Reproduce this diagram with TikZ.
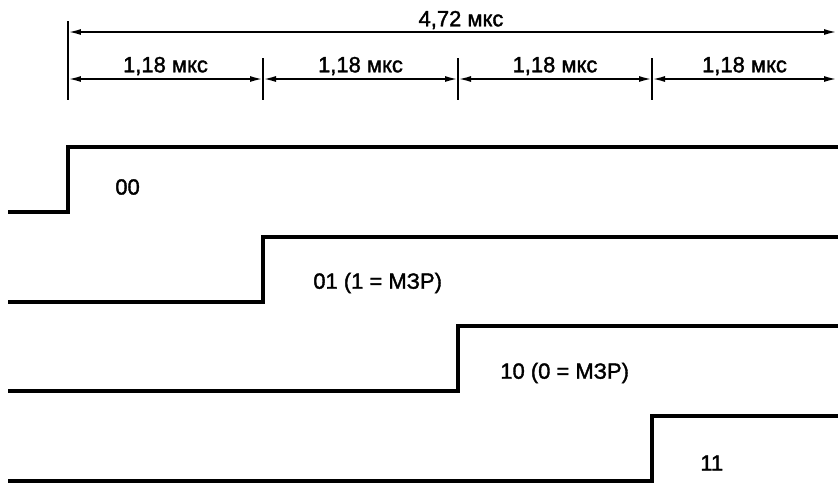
\documentclass[tikz,border=0pt]{standalone}
\usepackage{fontspec}
\setmainfont{Liberation Sans}[FakeBold=1.6]
\usepackage{tikz}
\usetikzlibrary{arrows.meta,positioning,calc}

\tikzset{
  dimline/.style={line width=1.1pt, {Latex[length=0.26cm,width=0.12cm]}-{Latex[length=0.26cm,width=0.12cm]}},
  tickline/.style={line width=1.1pt},
  wave/.style={line width=2.3pt, line join=miter},
  lbl/.style={inner sep=0pt, font=\fontsize{12.5}{14}\selectfont}
}

\begin{document}
\begin{tikzpicture}[x=0.02cm, y=-0.02cm]
    \useasboundingbox (0,0) rectangle (838,484);

    % time marks
    \draw[tickline] (68,21) -- (68,100);
    \foreach \x in {263, 458, 652} {
      \draw[tickline] (\x,58) -- (\x,100);
    }

    % total length
    \coordinate (a0) at (68,32);
    \coordinate (a1) at (837,32);
    \draw[dimline] (a0) -- (a1);
    \node[lbl] (total) at (461,20) {4,72 мкс};

    % single bits
    \foreach \i/\x in {0/68, 1/263, 2/458, 3/652, 4/837} {
      \coordinate (b\i) at (\x,79);
    }
    \foreach \i/\j in {0/1, 1/2, 2/3, 3/4} {
      \draw[dimline] (b\i) -- (b\j);
      \node[lbl] (bit\i) at ($ (b\i)!0.5!(b\j) + (0,-13) $) {1,18 мкс};
    }

    % code words
    \foreach \x/\y in {68/147, 263/237, 458/326, 652/416} {
      \draw[wave] (8,\y+65) -| (\x,\y) -- (838,\y);
    }
    \node[lbl, anchor=west] (w00) at (115,187) {00};
    \node[lbl, anchor=west] (w01) at (313,283) {01 (1 = МЗР)};
    \node[lbl, anchor=west] (w10) at (500,373) {10 (0 = МЗР)};
    \node[lbl, anchor=west] (w11) at (700,463) {11};
\end{tikzpicture}
\end{document}
